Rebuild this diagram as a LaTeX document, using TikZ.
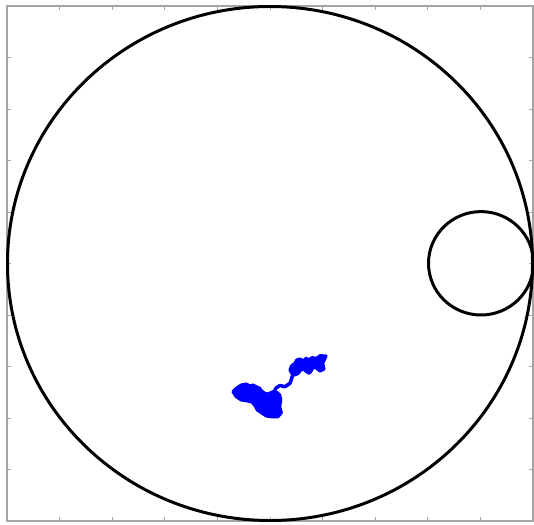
\documentclass[tikz,border=0pt]{standalone}
\usepackage{tikz}
\usetikzlibrary{calc}
\definecolor{framegray}{RGB}{165,165,165}
\definecolor{walkblue}{RGB}{0,0,255}

\begin{document}
\begin{tikzpicture}[x=0.02cm, y=-0.02cm,
    wall/.style={black, line width=1.7pt},
    axframe/.style={framegray, line width=0.6pt},
    axtick/.style={framegray, line width=0.5pt},
    walk/.style={walkblue, fill=walkblue, line width=1.8pt, line join=round}]
  \useasboundingbox (0,0) rectangle (534,524);
  % axes box and ticks
  \draw[axframe] (7,6) rectangle (533,521);
  \foreach \k in {1,...,9} {
    \draw[axtick] ({7+52.6*\k},6) -- ++(0,4);
    \draw[axtick] ({7+52.6*\k},521) -- ++(0,-4);
    \draw[axtick] (7,{6+51.5*\k}) -- ++(4,0);
    \draw[axtick] (533,{6+51.5*\k}) -- ++(-4,0);
  }
  % outer domain and small target
  \draw[wall] (270,263.5) ellipse [x radius=262.5, y radius=257];
  \draw[wall] (481,263.3) ellipse [x radius=52.5, y radius=51.7];
  % trajectory
  \filldraw[walk] (233,391.7) -- (236.3,388.3) -- (241.3,385) -- (246.3,384)
    -- (249.7,386) -- (253,385) -- (256.3,386.7) -- (259.7,388.3)
    -- (261.3,390.7) -- (264.7,393.3) -- (268,394) -- (273,391.7)
    -- (277.3,392.7) -- (279.7,395) -- (280.7,400) -- (279.7,406.7)
    -- (281.3,412.7) -- (278,416.7) -- (271.3,416.7) -- (266.3,416)
    -- (261.3,412.7) -- (257.3,410) -- (254.7,405) -- (251.3,401.7)
    -- (246.3,400.7) -- (241.3,400) -- (236.3,396.7) -- cycle;
  \draw[walkblue, line width=2pt, line join=round]
    (274,392) -- (276,388) -- (280,385.5) -- (285,386.7) -- (290,383.3)
    -- (291.7,378.3) -- (293.3,373);
  \filldraw[walk] (290,370) -- (291.7,365.7) -- (295,363.3) -- (296.7,360)
    -- (300,359) -- (303.3,361) -- (306,358.3) -- (309.3,360)
    -- (311.7,357.7) -- (316.7,358.3) -- (320,355.7) -- (326,356)
    -- (322.7,363.3) -- (324,369) -- (320,371) -- (316.7,368.3)
    -- (313.3,366.7) -- (311.7,370) -- (309.3,373.3) -- (306.7,371.7)
    -- (303.3,369) -- (300.7,370) -- (298.3,373.3) -- (295,375)
    -- (291.7,373.3) -- cycle;
\end{tikzpicture}
\end{document}
